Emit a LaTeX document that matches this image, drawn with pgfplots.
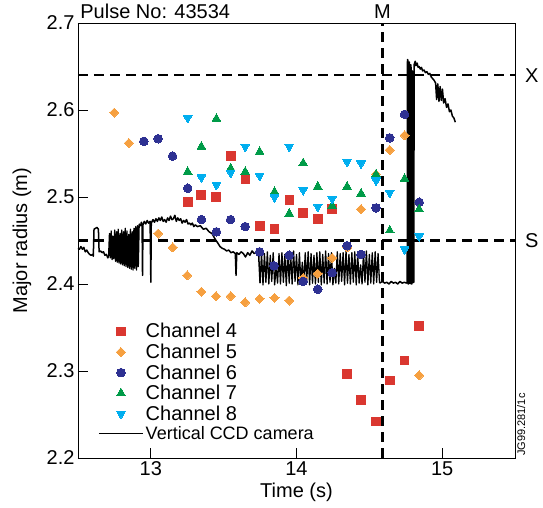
\documentclass[border=0pt]{standalone}
\usepackage{fontspec}
\setmainfont{Liberation Sans}
\usepackage{pgfplots}
\pgfplotsset{compat=1.18}
\definecolor{cfour}{RGB}{218,55,48}
\definecolor{cfive}{RGB}{246,160,64}
\definecolor{csix}{RGB}{46,49,146}
\definecolor{cseven}{RGB}{0,155,72}
\definecolor{ceight}{RGB}{0,174,239}
\begin{document}
\begin{tikzpicture}[font=\fontsize{20}{24}\selectfont]
\begin{axis}[
  scale only axis, width=437pt, height=435pt,
  xmin=12.5, xmax=15.5, ymin=2.2, ymax=2.7,
  clip=false,
  xtick={13,14,15}, ytick={2.2,2.3,2.4,2.5,2.6,2.7},
  yticklabel style={/pgf/number format/.cd, fixed, fixed zerofill, precision=1},
  /pgf/number format/assume math mode=true,
  tick label style={font=\fontsize{20}{24}\selectfont},
  label style={font=\fontsize{20}{24}\selectfont},
  tick pos=left, tick align=inside, major tick length=10pt,
  tick style={black, line width=0.8pt},
  axis line style={line width=0.8pt},
  xlabel={Time (s)}, ylabel={Major radius (m)},
  xlabel style={at={(axis description cs:0.5,-0.08)}, anchor=center},
  ylabel style={at={(axis description cs:-0.128,0.5)}, anchor=center},
  legend image code/.code={\draw[mark repeat=2,mark phase=2,#1] plot coordinates {(0pt,0pt) (22pt,0pt) (44pt,0pt)};},
  legend style={at={(rel axis cs:0.039,0.319)}, anchor=north west, draw=none, fill=none,
    font=\fontsize{20}{24}\selectfont, row sep=0.6pt, nodes={inner sep=2pt}, cells={anchor=west}},
]
% reference lines
\addplot[black, line width=2.2pt, dash pattern=on 10pt off 6pt, forget plot] coordinates {(12.5,2.64) (15.5,2.64)};
\addplot[black, line width=2.2pt, dash pattern=on 10pt off 6pt, forget plot] coordinates {(12.5,2.45) (15.5,2.45)};
\addplot[black, line width=2.2pt, dash pattern=on 10pt off 6pt, forget plot] coordinates {(14.59,2.2) (14.59,2.7)};
% Vertical CCD camera
\addplot[black, line width=1.5pt, line join=round, forget plot] coordinates {
(12.500,2.441) (12.510,2.440) (12.520,2.443) (12.530,2.440) (12.540,2.442) (12.550,2.437) (12.560,2.439) (12.570,2.436) (12.580,2.434) (12.590,2.433) (12.600,2.434) (12.605,2.432)
(12.610,2.463) (12.620,2.464) (12.630,2.465) (12.640,2.463) (12.645,2.437) (12.655,2.438) (12.665,2.436) (12.675,2.437) (12.685,2.433) (12.695,2.434) (12.705,2.430) (12.710,2.432)
};
\addplot[black, line width=1.3pt, line join=round, forget plot] coordinates {
(12.710,2.432) (12.716,2.458) (12.722,2.430) (12.728,2.461) (12.734,2.428) (12.740,2.455) (12.746,2.429) (12.752,2.462) (12.758,2.426) (12.764,2.460) (12.770,2.425) (12.776,2.463) (12.782,2.424) (12.788,2.458) (12.794,2.423) (12.800,2.462) (12.806,2.422) (12.812,2.460) (12.818,2.421) (12.824,2.464) (12.830,2.420) (12.836,2.461) (12.842,2.419) (12.848,2.457) (12.854,2.418) (12.860,2.463) (12.866,2.417) (12.872,2.460) (12.878,2.416) (12.884,2.464) (12.890,2.418) (12.896,2.466) (12.902,2.416) (12.908,2.467) (12.914,2.420) (12.920,2.469)
};
\addplot[black, line width=1.5pt, line join=round, forget plot] coordinates {
(12.920,2.469) (12.930,2.467) (12.935,2.471) (12.940,2.468) (12.943,2.410) (12.946,2.468) (12.955,2.472) (12.965,2.469) (12.975,2.473) (12.985,2.470) (12.995,2.472) (13.000,2.402) (13.003,2.470) (13.015,2.474) (13.025,2.471) (13.035,2.475) (13.045,2.472) (13.055,2.476) (13.065,2.473) (13.075,2.477) (13.085,2.472) (13.095,2.474) (13.105,2.471) (13.115,2.476) (13.125,2.473) (13.135,2.478) (13.145,2.474) (13.155,2.475) (13.165,2.479) (13.175,2.472) (13.185,2.476) (13.195,2.473) (13.205,2.475) (13.215,2.470) (13.225,2.473) (13.235,2.471) (13.245,2.474) (13.255,2.469) (13.265,2.470) (13.275,2.468) (13.285,2.470) (13.295,2.466) (13.305,2.468)
(13.320,2.466) (13.340,2.467) (13.360,2.463) (13.380,2.464) (13.400,2.460) (13.420,2.458) (13.440,2.452) (13.460,2.447) (13.475,2.443) (13.490,2.441) (13.505,2.440) (13.520,2.438) (13.535,2.439) (13.550,2.436) (13.565,2.437) (13.580,2.435) (13.585,2.410) (13.590,2.436) (13.605,2.434) (13.620,2.437) (13.635,2.435) (13.650,2.431) (13.665,2.436) (13.680,2.433) (13.695,2.438) (13.710,2.435) (13.725,2.436) (13.740,2.434) (13.750,2.401)
};
\addplot[black, line width=1.3pt, line join=round, forget plot] coordinates {
(13.750,2.401) (13.760,2.436) (13.770,2.399) (13.780,2.435) (13.790,2.402) (13.800,2.437) (13.810,2.400) (13.820,2.433) (13.830,2.403) (13.840,2.436) (13.850,2.399) (13.860,2.420) (13.870,2.401) (13.880,2.435) (13.890,2.400) (13.900,2.436) (13.910,2.402) (13.920,2.434) (13.930,2.398) (13.940,2.437) (13.950,2.401) (13.960,2.435) (13.970,2.400) (13.980,2.438) (13.990,2.403)
(14.000,2.434) (14.010,2.399) (14.020,2.436) (14.030,2.401) (14.040,2.425) (14.050,2.400) (14.060,2.436) (14.070,2.402) (14.080,2.437) (14.090,2.399) (14.100,2.435) (14.110,2.401) (14.120,2.433) (14.130,2.400) (14.140,2.436) (14.150,2.402) (14.160,2.437) (14.170,2.399) (14.180,2.434) (14.190,2.401) (14.200,2.438) (14.210,2.400) (14.220,2.435) (14.230,2.402) (14.240,2.436) (14.250,2.399) (14.260,2.418) (14.270,2.401) (14.280,2.437) (14.290,2.400)
(14.300,2.435) (14.310,2.403) (14.320,2.436) (14.330,2.399) (14.340,2.438) (14.350,2.401) (14.360,2.434) (14.370,2.400) (14.380,2.436) (14.390,2.402) (14.400,2.437) (14.410,2.399) (14.420,2.435) (14.430,2.401) (14.440,2.422) (14.450,2.400) (14.460,2.436) (14.470,2.402) (14.480,2.438) (14.490,2.399) (14.500,2.434) (14.510,2.401) (14.520,2.436) (14.530,2.400) (14.540,2.437) (14.550,2.402) (14.560,2.435) (14.570,2.401)
};
\addplot[black, line width=1.5pt, line join=round, forget plot] coordinates {
(14.570,2.401) (14.580,2.402) (14.590,2.403) (14.605,2.401) (14.620,2.402) (14.635,2.400) (14.650,2.403) (14.665,2.401) (14.680,2.402) (14.695,2.400) (14.710,2.403) (14.725,2.401) (14.740,2.402) (14.755,2.401) (14.760,2.402)
(14.762,2.658) (14.765,2.657) (14.766,2.400) (14.770,2.400) (14.771,2.655) (14.775,2.655) (14.776,2.401) (14.781,2.401) (14.782,2.652) (14.786,2.652) (14.787,2.400) (14.792,2.400) (14.793,2.645) (14.795,2.645) (14.796,2.402) (14.806,2.402) (14.807,2.652)
(14.815,2.656) (14.820,2.651) (14.828,2.654) (14.835,2.649) (14.842,2.650) (14.850,2.647) (14.858,2.649) (14.866,2.645) (14.875,2.646) (14.885,2.643) (14.895,2.644) (14.905,2.641) (14.915,2.642) (14.925,2.638) (14.935,2.636) (14.945,2.634) (14.955,2.631) (14.962,2.612) (14.970,2.630) (14.978,2.610) (14.986,2.627) (14.994,2.611) (15.002,2.624) (15.010,2.608) (15.020,2.613) (15.030,2.603) (15.040,2.607) (15.050,2.598) (15.060,2.600) (15.070,2.593) (15.080,2.591) (15.090,2.586)
};
% Channel 4
\addplot[only marks, mark=square*, mark size=4.4pt, mark options={fill=cfour, draw=cfour, line width=0pt}] coordinates {
(13.253,2.494) (13.347,2.502) (13.450,2.500) (13.553,2.547) (13.650,2.521) (13.747,2.467) (13.849,2.463) (13.952,2.497) (14.046,2.482) (14.146,2.475) (14.245,2.486)
(14.347,2.297) (14.443,2.267) (14.546,2.242) (14.640,2.289) (14.742,2.312) (14.842,2.352)
};
\addlegendentry{Channel 4}
% Channel 5
\addplot[only marks, mark=square*, mark size=3.2pt, mark options={rotate=45, fill=cfive, draw=cfive, line width=0pt}] coordinates {
(12.749,2.597) (12.849,2.562) (13.050,2.458) (13.150,2.442) (13.250,2.410) (13.347,2.391) (13.448,2.386) (13.548,2.386) (13.648,2.379) (13.747,2.383) (13.849,2.384) (13.950,2.381)
(14.046,2.407) (14.146,2.412) (14.245,2.430) (14.347,2.442) (14.443,2.486) (14.546,2.526) (14.640,2.554) (14.742,2.571) (14.842,2.295)
};
\addlegendentry{Channel 5}
% Channel 6
\addplot[only marks, mark=*, mark size=4.3pt, mark options={fill=csix, draw=csix, line width=0pt}] coordinates {
(12.952,2.564) (13.050,2.567) (13.149,2.547) (13.253,2.510) (13.347,2.474) (13.450,2.460) (13.548,2.474) (13.648,2.466) (13.747,2.437) (13.845,2.421) (13.950,2.433)
(14.046,2.403) (14.146,2.394) (14.245,2.413) (14.347,2.444) (14.443,2.434) (14.546,2.4875) (14.640,2.568) (14.742,2.595) (14.842,2.494)
};
\addlegendentry{Channel 6}
% Channel 7
\addplot[only marks, mark=triangle*, mark size=5pt, mark options={fill=cseven, draw=cseven, line width=0pt}] coordinates {
(13.253,2.529) (13.347,2.558) (13.450,2.590) (13.548,2.533) (13.648,2.529) (13.747,2.552) (13.849,2.506) (13.950,2.481) (14.046,2.539) (14.146,2.512) (14.245,2.490)
(14.347,2.512) (14.443,2.504) (14.546,2.526) (14.640,2.4615) (14.742,2.521) (14.842,2.486)
};
\addlegendentry{Channel 7}
% Channel 8
\addplot[only marks, mark=triangle*, mark size=5pt, mark options={rotate=180, fill=ceight, draw=ceight, line width=0pt}] coordinates {
(13.253,2.591) (13.347,2.5226) (13.450,2.514) (13.548,2.528) (13.648,2.558) (13.747,2.5245) (13.849,2.4997) (13.950,2.558) (14.046,2.508) (14.146,2.489) (14.245,2.498)
(14.347,2.5405) (14.443,2.5386) (14.546,2.519) (14.640,2.505) (14.742,2.440) (14.842,2.455)
};
\addlegendentry{Channel 8}
\addlegendimage{black, line width=1.5pt}
\addlegendentry{\fontsize{18}{20}\selectfont Vertical CCD camera}
% annotations
\node[anchor=base west, inner sep=0pt, yshift=4.7pt] at (rel axis cs:0.005,1) {Pulse No: 43534};
\node[anchor=base, inner sep=0pt, yshift=4.7pt] at (axis cs:14.59,2.7) {M};
\node[anchor=west, inner sep=0pt, xshift=10pt] at (axis cs:15.5,2.64) {X};
\node[anchor=west, inner sep=0pt, xshift=10pt] at (axis cs:15.5,2.45) {S};
\node[anchor=north west, rotate=90, inner sep=2pt, font=\fontsize{11}{12}\selectfont] at (rel axis cs:1,0) {JG99.281/1c};
\coordinate (bl) at (rel axis cs:0,0);
\coordinate (tr) at (rel axis cs:1,1);
\end{axis}
\pgfresetboundingbox
\path[use as bounding box] ([xshift=-78pt,yshift=-49.7pt]bl) rectangle ([xshift=28pt,yshift=23pt]tr);
\end{tikzpicture}
\end{document}
